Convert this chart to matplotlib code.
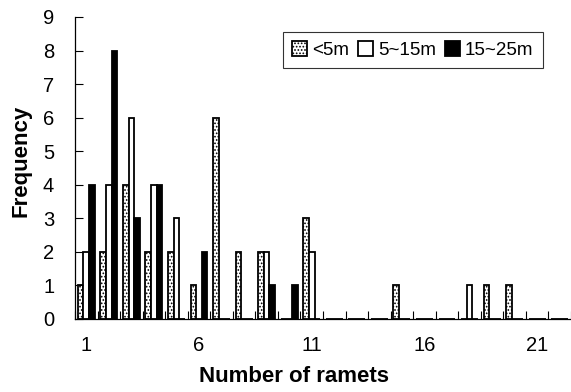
import matplotlib
matplotlib.use("Agg")
import matplotlib.pyplot as plt
import numpy as np

plt.rcParams['font.family'] = ['Liberation Sans', 'DejaVu Sans']
plt.rcParams['hatch.linewidth'] = 0.8

categories = list(range(1, 23))
lt5 = [1, 2, 4, 2, 2, 1, 6, 2, 2, 0, 3, 0, 0, 0, 1, 0, 0, 0, 1, 1, 0, 0]
m5_15 = [2, 4, 6, 4, 3, 0, 0, 0, 2, 0, 2, 0, 0, 0, 0, 0, 0, 1, 0, 0, 0, 0]
m15_25 = [4, 8, 3, 4, 0, 2, 0, 0, 1, 1, 0, 0, 0, 0, 0, 0, 0, 0, 0, 0, 0, 0]
series_labels = ['<5m', '5~15m', '15~25m']
xtick_labels = [1, 6, 11, 16, 21]

fig = plt.figure(figsize=(5.71, 3.92), dpi=100)
ax = fig.add_axes([75/571, 73/392, 1 - 75/571, (319-17)/392])

x = np.array(categories, dtype=float)
w = 0.25
ax.bar(x - w, lt5, width=w, facecolor='white', edgecolor='black', hatch='.....', linewidth=1.3, label=series_labels[0])
ax.bar(x, m5_15, width=w, facecolor='white', edgecolor='black', linewidth=1.3, label=series_labels[1])
ax.bar(x + w, m15_25, width=w, facecolor='black', edgecolor='black', linewidth=1.3, label=series_labels[2])

ax.set_xlim(0.5, 22.47)
ax.set_ylim(0, 9)
ax.set_yticks(range(0, 10))
ax.set_xticks(xtick_labels)
ax.set_xticklabels([str(v) for v in xtick_labels])
ax.set_xticks(np.arange(0.5, 23, 1.0), minor=True)

ax.tick_params(axis='x', which='major', length=0, pad=12, labelsize=14.5)
ax.tick_params(axis='x', which='minor', direction='in', length=6, width=0.8)
ax.tick_params(axis='y', direction='in', length=6, width=0.8, pad=15, labelsize=14.5)

for s in ['top', 'right']:
    ax.spines[s].set_visible(False)
ax.spines['left'].set_linewidth(0.9)
ax.spines['bottom'].set_linewidth(0.9)

ax.set_xlabel('Number of ramets', fontsize=16, fontweight='bold')
ax.xaxis.set_label_coords((294-75)/496, (319-376)/302)
ax.xaxis.label.set_va('center')
ax.set_ylabel('Frequency', fontsize=16, fontweight='bold')
ax.yaxis.set_label_coords((21-75)/496, (319-161)/302)
ax.yaxis.label.set_va('center')

leg = ax.legend(loc='upper right', bbox_to_anchor=(543/571, 1 - 32/392),
                bbox_transform=fig.transFigure, ncol=3, fontsize=13.5,
                frameon=True, fancybox=False, edgecolor='black',
                handlelength=0.8, handleheight=0.8, handletextpad=0.25,
                columnspacing=0.5, borderpad=0.5, borderaxespad=0)
leg.get_frame().set_linewidth(0.8)

fig.savefig('out.png', dpi=100)
